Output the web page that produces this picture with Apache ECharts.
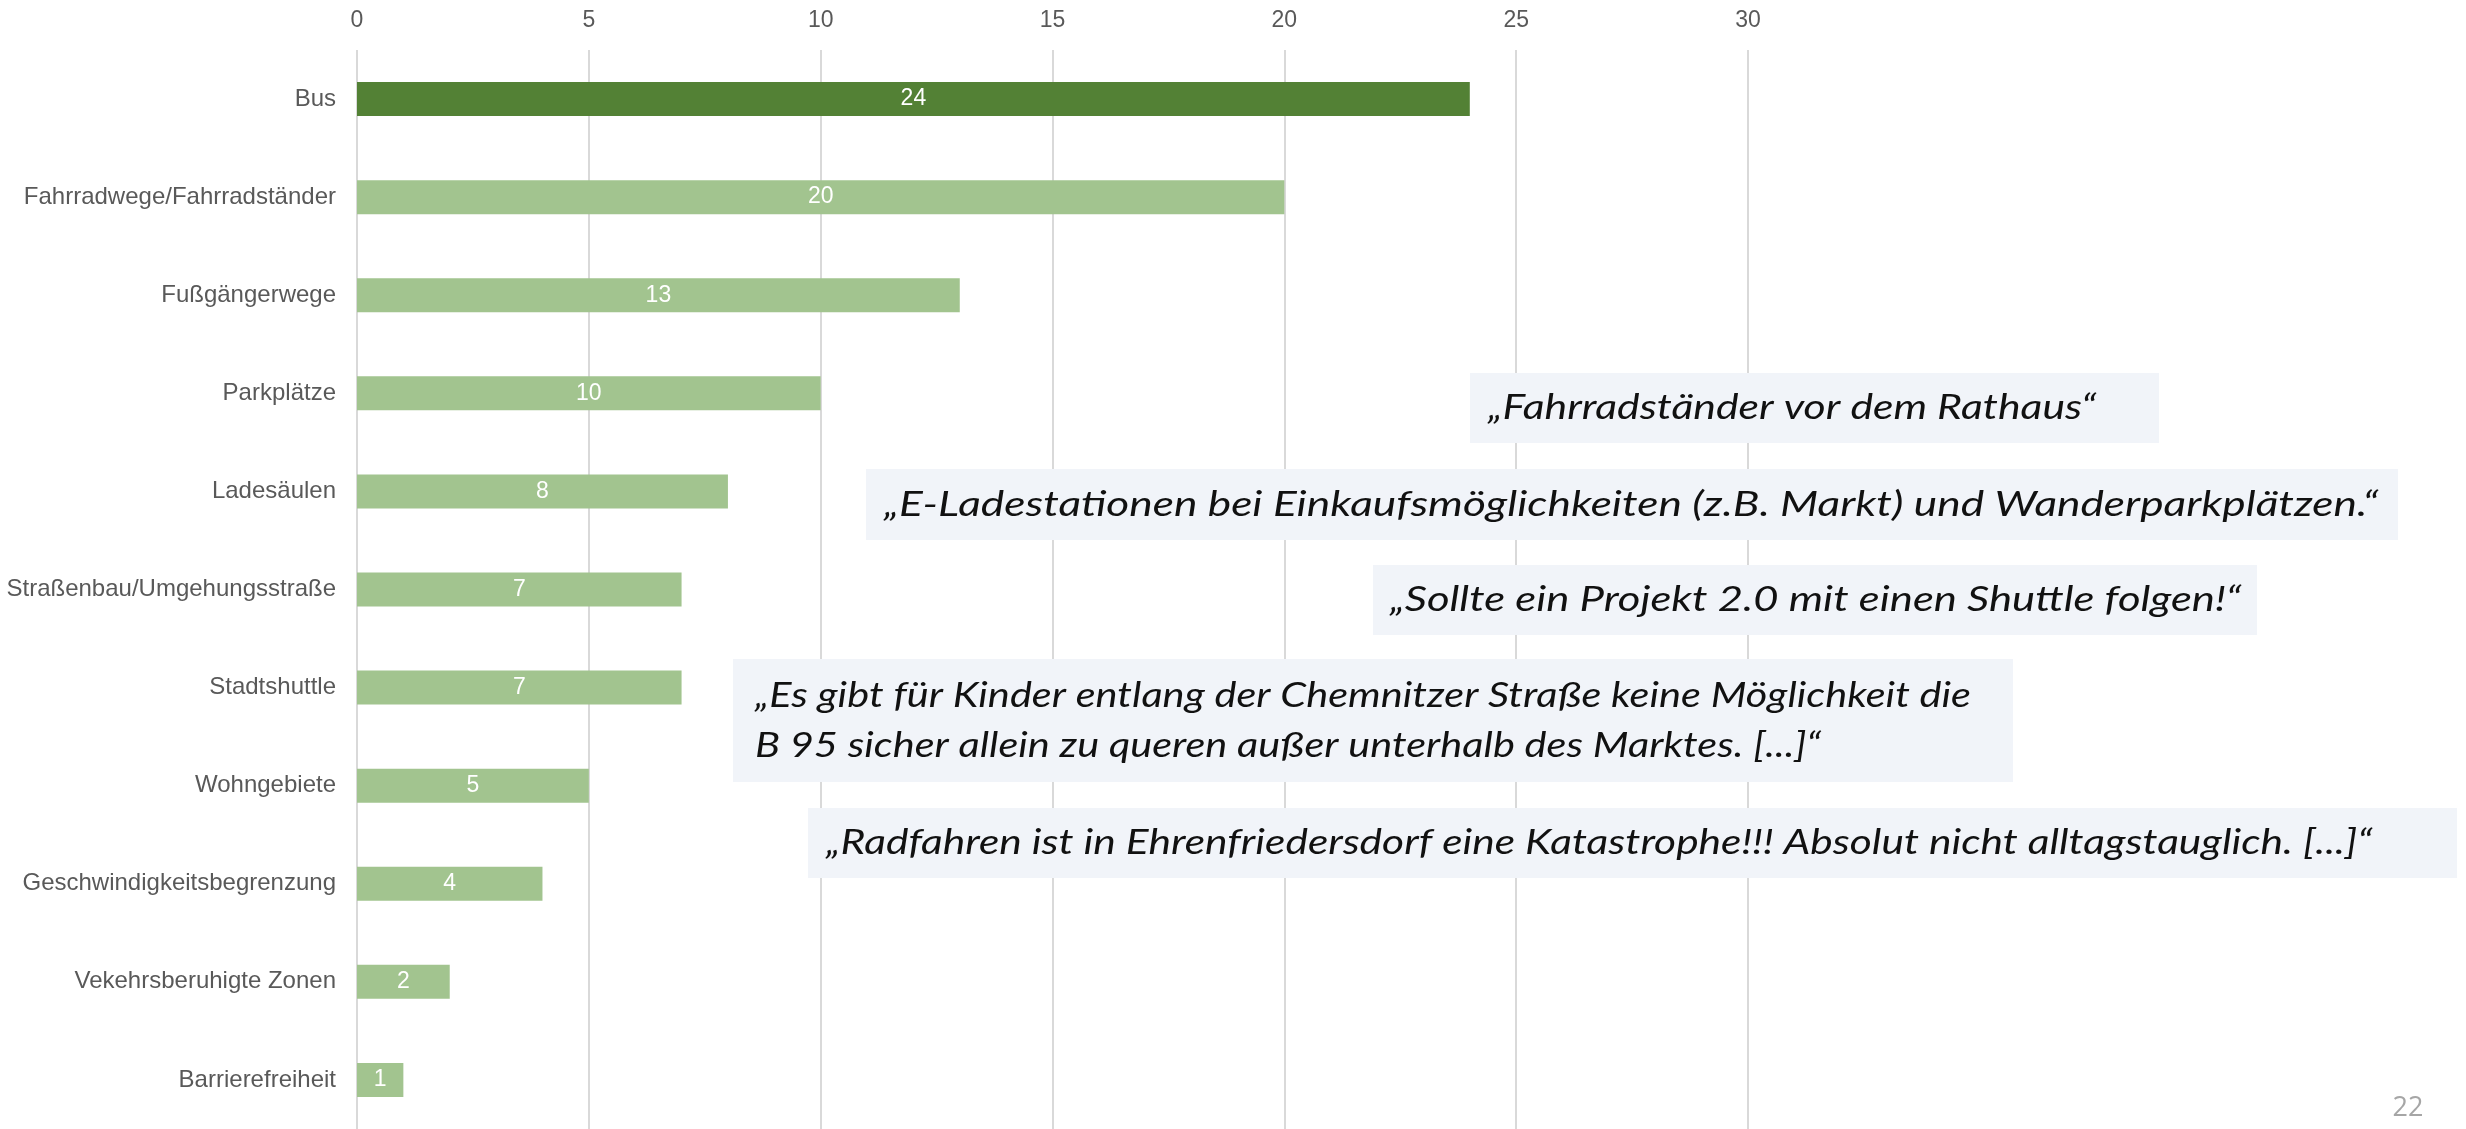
<!DOCTYPE html>
<html>
<head>
<meta charset="utf-8">
<script src="https://cdn.jsdelivr.net/npm/echarts@6/dist/echarts.min.js"></script>
<style>
  html, body { margin: 0; padding: 0; background: #fff; }
  #main { width: 2466px; height: 1129px; }
</style>
</head>
<body>
<div id="main"></div>
<script>
// Kategorien und Werte (Anzahl Nennungen)
var categories = [
  'Bus',
  'Fahrradwege/Fahrradständer',
  'Fußgängerwege',
  'Parkplätze',
  'Ladesäulen',
  'Straßenbau/Umgehungsstraße',
  'Stadtshuttle',
  'Wohngebiete',
  'Geschwindigkeitsbegrenzung',
  'Vekehrsberuhigte Zonen',
  'Barrierefreiheit'
]
var values = [24, 20, 13, 10, 8, 7, 7, 5, 4, 2, 1]
var highlighted = ['Bus']

// x-Achse
var xMin = 0
var xMax = 30
var xStep = 5

// Zitate (eine Zeile pro Eintrag)
var quotes = [
  ['„Fahrradständer vor dem Rathaus“'],
  ['„E-Ladestationen bei Einkaufsmöglichkeiten (z.B. Markt) und Wanderparkplätzen.“'],
  ['„Sollte ein Projekt 2.0 mit einen Shuttle folgen!“'],
  ['„Es gibt für Kinder entlang der Chemnitzer Straße keine Möglichkeit die',
   'B 95 sicher allein zu queren außer unterhalb des Marktes. [...]“'],
  ['„Radfahren ist in Ehrenfriedersdorf eine Katastrophe!!! Absolut nicht alltagstauglich. [...]“']
]
var pageNumber = '22'

// Lage der Zitat-Kästen (Pixel)
var boxLayout = [
  { x: 1470, y: 373, w: 689, h: 70, tx: 1488, tw: 608 },
  { x: 866, y: 469, w: 1532, h: 71, tx: 884, tw: 1494 },
  { x: 1373, y: 565, w: 884, h: 70, tx: 1390, tw: 851 },
  { x: 733, y: 659, w: 1280, h: 123, tx: 755, tw: 1216 },
  { x: 808, y: 808, w: 1649, h: 70, tx: 826, tw: 1546 }
]

var DARK = '#538135'
var LIGHT = '#A2C48F'
var quoteFont = 'italic 35px Lato'
var lineGap = 50
var labelFont = '"Liberation Sans", Arial, sans-serif'

var chart = echarts.init(document.getElementById('main'), null, { renderer: 'canvas' })

// Textbreite messen, um die Zitate horizontal anzupassen
var measureCtx = document.createElement('canvas').getContext('2d')
measureCtx.font = quoteFont

function quoteGraphics() {
  var els = []
  quotes.forEach(function (lines, i) {
    var b = boxLayout[i]
    els.push({
      type: 'rect',
      shape: { x: b.x, y: b.y, width: b.w, height: b.h },
      style: { fill: '#F1F4F9' },
      z: 10
    })
    var sx = b.tw / measureCtx.measureText(lines[0]).width
    var cy = b.y + b.h / 2 - (lines.length - 1) * lineGap / 2
    lines.forEach(function (line, j) {
      els.push({
        type: 'text',
        x: b.tx,
        y: cy + j * lineGap,
        scaleX: sx,
        style: {
          text: line,
          font: quoteFont,
          fill: '#111111',
          textAlign: 'left',
          textVerticalAlign: 'middle'
        },
        z: 11
      })
    })
  })
  // Foliennummer
  els.push({
    type: 'text',
    x: 2408,
    y: 1108,
    style: {
      text: pageNumber,
      font: '27px "Open Sans"',
      fill: '#A6A6A6',
      textAlign: 'center',
      textVerticalAlign: 'middle'
    }
  })
  return els
}

var option = {
  backgroundColor: '#ffffff',
  animation: false,
  grid: {
    left: 357,
    right: 718,
    top: 50,
    height: 1083.5
  },
  xAxis: {
    type: 'value',
    position: 'top',
    min: xMin,
    max: xMax,
    interval: xStep,
    axisLine: { show: false },
    axisTick: { show: false },
    axisLabel: {
      color: '#595959',
      fontSize: 23,
      fontFamily: labelFont,
      margin: 18
    },
    splitLine: {
      lineStyle: { color: '#D9D9D9', width: 2 }
    }
  },
  yAxis: {
    type: 'category',
    inverse: true,
    data: categories,
    axisLine: { show: false },
    axisTick: { show: false },
    axisLabel: {
      color: '#595959',
      fontSize: 24,
      fontFamily: labelFont,
      margin: 21
    }
  },
  series: [{
    type: 'bar',
    data: values,
    barWidth: 34,
    itemStyle: {
      color: function (p) {
        return highlighted.indexOf(p.name) >= 0 ? DARK : LIGHT
      }
    },
    label: {
      show: true,
      position: 'inside',
      color: '#ffffff',
      fontSize: 23,
      fontFamily: labelFont
    }
  }],
  graphic: quoteGraphics()
}

chart.setOption(option)
</script>
</body>
</html>
